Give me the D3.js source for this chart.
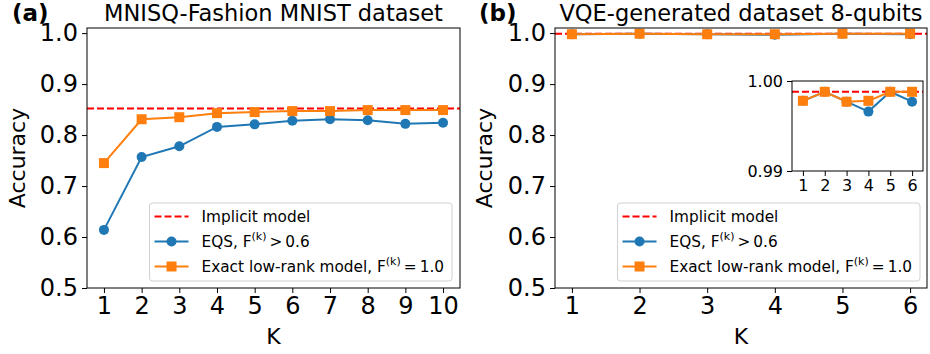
<!DOCTYPE html>
<html lang="en">
<head>
<meta charset="utf-8">
<title>Accuracy vs K</title>
<script src="https://d3js.org/d3.v7.min.js"></script>
<style>
  body { margin: 0; background: #fff; }
  svg { font-family: "DejaVu Sans", sans-serif; display: block; }
</style>
</head>
<body>
<svg width="930" height="354"></svg>
<script>
// (a) MNISQ-Fashion MNIST
const kMnist = [1, 2, 3, 4, 5, 6, 7, 8, 9, 10];
const eqsMnist = [0.614, 0.757, 0.778, 0.816, 0.821, 0.828, 0.831, 0.829, 0.822, 0.824];
const exactMnist = [0.745, 0.831, 0.835, 0.843, 0.845, 0.847, 0.847, 0.849, 0.849, 0.849];
const implicitMnist = 0.852;

// (b) VQE 8 qubits
const kVqe = [1, 2, 3, 4, 5, 6];
const eqsVqe = [0.9978, 0.9988, 0.9977, 0.9966, 0.9988, 0.9977];
const exactVqe = [0.9978, 0.9988, 0.9977, 0.9978, 0.9988, 0.9988];
const implicitVqe = 0.9988;

const yTicks = [0.5, 0.6, 0.7, 0.8, 0.9, 1.0];
const insetYTicks = [0.99, 1.00];

const BLUE = "#1f77b4", ORANGE = "#ff7f0e", RED = "#ff0000";

const svg = d3.select("svg");

function frame(g, x, y) {
  g.append("rect")
    .attr("x", x.range()[0]).attr("y", y.range()[1])
    .attr("width", x.range()[1] - x.range()[0])
    .attr("height", y.range()[0] - y.range()[1])
    .attr("fill", "none").attr("stroke", "#000").attr("stroke-width", 1);
}

function axes(g, x, y, xt, yt, yfmt, fs) {
  const xa = g.append("g").attr("transform", `translate(0,${y.range()[0]})`)
    .call(d3.axisBottom(x).tickValues(xt).tickFormat(d3.format("d")).tickSize(5).tickPadding(4).tickSizeOuter(0));
  const ya = g.append("g").attr("transform", `translate(${x.range()[0]},0)`)
    .call(d3.axisLeft(y).tickValues(yt).tickFormat(d3.format(yfmt)).tickSize(5).tickPadding(4).tickSizeOuter(0));
  [xa, ya].forEach(a => {
    a.select(".domain").remove();
    a.selectAll("text").attr("font-size", fs).attr("font-family", "DejaVu Sans").attr("fill", "#000");
    a.selectAll("line").attr("stroke", "#000").attr("stroke-width", 1);
  });
}

function series(g, x, y, ks, vals, color, shape, ms) {
  const line = d3.line().x((d, i) => x(ks[i])).y(d => y(d));
  g.append("path").datum(vals).attr("d", line)
    .attr("fill", "none").attr("stroke", color).attr("stroke-width", 2);
  const pts = g.selectAll(null).data(vals).enter();
  if (shape === "circle") {
    pts.append("circle").attr("cx", (d, i) => x(ks[i])).attr("cy", d => y(d))
      .attr("r", ms / 2).attr("fill", color);
  } else {
    pts.append("rect").attr("x", (d, i) => x(ks[i]) - ms / 2).attr("y", d => y(d) - ms / 2)
      .attr("width", ms).attr("height", ms).attr("fill", color);
  }
}

function hline(g, x, y, v) {
  g.append("line").attr("x1", x.range()[0]).attr("x2", x.range()[1])
    .attr("y1", y(v)).attr("y2", y(v))
    .attr("stroke", RED).attr("stroke-width", 2).attr("stroke-dasharray", "7,3");
}

const legendItems = [
  { kind: "dash", color: RED, parts: [["Implicit model"]] },
  { kind: "circle", color: BLUE, parts: [["EQS, F"], ["(k)", "sup"], ["\u2009>\u20090.6"]] },
  { kind: "square", color: ORANGE, parts: [["Exact low-rank model, F"], ["(k)", "sup"], ["\u2009=\u20091.0"]] }
];

function legend(g, right, bottom) {
  const fs = 15.3, rowH = 25, pad = 5, handle = 34, gap = 13;
  const lg = g.append("g");
  const box = lg.append("rect");
  let maxW = 0;
  const top = bottom - 78;
  legendItems.forEach((it, i) => {
    const cy = top + 13.5 + i * rowH;
    const t = lg.append("text").attr("y", cy).attr("dy", "0.36em")
      .attr("font-size", fs).attr("fill", "#000");
    it.parts.forEach(p => {
      if (p[1] === "sup") {
        t.append("tspan").text(p[0]).attr("font-size", fs * 0.72).attr("dy", -7);
      } else {
        const ts = t.append("tspan").text(p[0]);
        if (t.selectAll("tspan").size() > 1) ts.attr("dy", 7);
      }
    });
    it.node = t;
    it.cy = cy;
    maxW = Math.max(maxW, t.node().getComputedTextLength());
  });
  const width = pad + handle + gap + maxW + 8;
  const left = right - width;
  box.attr("x", left).attr("y", top).attr("width", width).attr("height", bottom - top)
    .attr("rx", 3).attr("fill", "#fff").attr("fill-opacity", 0.8)
    .attr("stroke", "#d0d0d0").attr("stroke-width", 1);
  legendItems.forEach(it => {
    const x0 = left + pad, x1 = x0 + handle, cx = (x0 + x1) / 2;
    it.node.attr("x", x1 + gap);
    it.node.select("tspan").attr("x", x1 + gap);
    const ln = lg.append("line").attr("x1", x0).attr("x2", x1).attr("y1", it.cy).attr("y2", it.cy)
      .attr("stroke", it.color).attr("stroke-width", 2);
    if (it.kind === "dash") ln.attr("stroke-dasharray", "7,3");
    if (it.kind === "circle") lg.append("circle").attr("cx", cx).attr("cy", it.cy).attr("r", 5).attr("fill", it.color);
    if (it.kind === "square") lg.append("rect").attr("x", cx - 5).attr("y", it.cy - 5).attr("width", 10).attr("height", 10).attr("fill", it.color);
  });
}

function titles(g, x, y, letter, letterX, title) {
  g.append("text").attr("x", letterX).attr("y", 21).attr("font-size", 23).attr("font-weight", "bold").text(letter);
  g.append("text").attr("x", (x.range()[0] + x.range()[1]) / 2).attr("y", 21)
    .attr("text-anchor", "middle").attr("font-size", 22.5).text(title);
  g.append("text").attr("x", (x.range()[0] + x.range()[1]) / 2).attr("y", 344)
    .attr("text-anchor", "middle").attr("font-size", 22).text("K");
}

function ylabel(g, cx, cy) {
  g.append("text").attr("transform", `translate(${cx},${cy}) rotate(-90)`)
    .attr("text-anchor", "middle").attr("font-size", 22).text("Accuracy");
}

// panel (a)
{
  const g = svg.append("g");
  const x = d3.scaleLinear().domain([0.55, 10.45]).range([87, 460]);
  const y = d3.scaleLinear().domain([0.5, 1.01]).range([288, 28]);
  hline(g, x, y, implicitMnist);
  series(g, x, y, kMnist, eqsMnist, BLUE, "circle", 10);
  series(g, x, y, kMnist, exactMnist, ORANGE, "square", 10);
  frame(g, x, y);
  axes(g, x, y, kMnist, yTicks, ".1f", 24);
  legend(g, 452, 281);
  titles(g, x, y, "(a)", 12, "MNISQ-Fashion MNIST dataset");
  ylabel(g, 25, 158);
}

// panel (b)
{
  const g = svg.append("g");
  const x = d3.scaleLinear().domain([0.75, 6.25]).range([555, 927]);
  const y = d3.scaleLinear().domain([0.5, 1.01]).range([288, 28]);
  hline(g, x, y, implicitVqe);
  series(g, x, y, kVqe, eqsVqe, BLUE, "circle", 10);
  series(g, x, y, kVqe, exactVqe, ORANGE, "square", 10);
  frame(g, x, y);
  axes(g, x, y, kVqe, yTicks, ".1f", 24);
  legend(g, 920, 281);
  titles(g, x, y, "(b)", 479, "VQE-generated dataset 8-qubits");
  ylabel(g, 492, 158);

  // inset
  const gi = svg.append("g");
  const xi = d3.scaleLinear().domain([0.5, 6.5]).range([792, 923]);
  const yi = d3.scaleLinear().domain([0.99, 1.0]).range([171, 81]);
  gi.append("rect").attr("x", 792).attr("y", 81).attr("width", 131).attr("height", 90).attr("fill", "#fff");
  hline(gi, xi, yi, implicitVqe);
  series(gi, xi, yi, kVqe, eqsVqe, BLUE, "circle", 10);
  series(gi, xi, yi, kVqe, exactVqe, ORANGE, "square", 10);
  frame(gi, xi, yi);
  axes(gi, xi, yi, kVqe, insetYTicks, ".2f", 16);
}
</script>
</body>
</html>
